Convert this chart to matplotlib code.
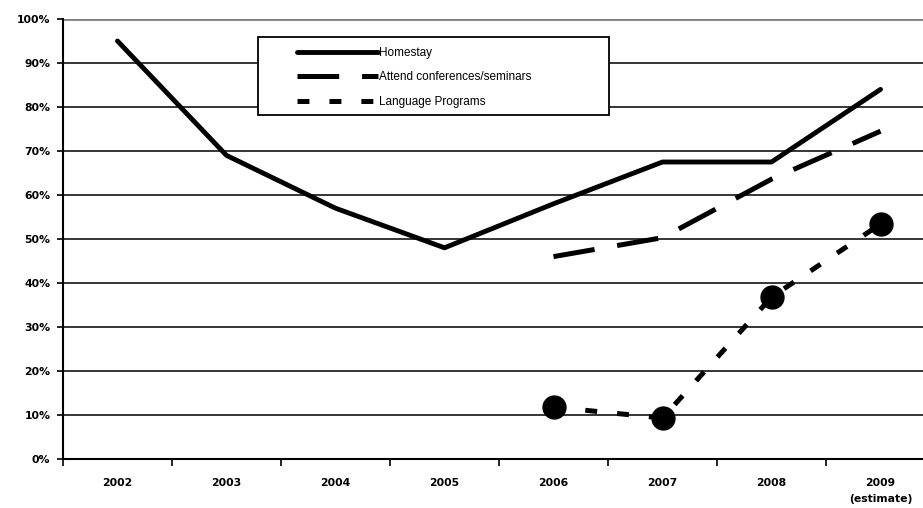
import matplotlib
matplotlib.use("Agg")
import matplotlib.pyplot as plt
from matplotlib.lines import Line2D
from matplotlib.patches import Rectangle
from matplotlib.ticker import FixedLocator, NullFormatter

plt.rcParams['font.family'] = ['Liberation Sans', 'DejaVu Sans']
plt.rcParams['lines.scale_dashes'] = False

years = ["2002", "2003", "2004", "2005", "2006", "2007", "2008", "2009\n(estimate)"]
homestay = [95, 69, 57, 48, 58, 67.5, 67.5, 84]
attend_idx = [4, 5, 6, 7]
attend = [46, 50.3, 63.6, 74.5]
lang_idx = [4, 5, 6, 7]
language = [11.8, 9.3, 36.8, 53.4]
yticks = [0, 10, 20, 30, 40, 50, 60, 70, 80, 90, 100]
series_names = ["Homestay", "Attend conferences/seminars", "Language Programs"]

W, H = 923, 508
fig = plt.figure(figsize=(W / 100, H / 100), dpi=100)
ax = fig.add_axes([63 / W, 49 / H, 872 / W, 440 / H])
ax.set_xlim(-0.5, 7.5)
ax.set_ylim(0, 100)

tick_font = dict(family=['DejaVu Sans'], fontsize=7.8, fontweight='bold')

# gridlines
for v in yticks[1:-1]:
    ax.axhline(v, color='black', lw=1.1, zorder=1)
ax.axhline(100, color='#808080', lw=2.0, zorder=1)

x_all = list(range(len(years)))
ax.plot(x_all, homestay, color='black', lw=3.5, solid_capstyle='round',
        solid_joinstyle='round', zorder=3)
ax.plot(attend_idx, attend, color='black', lw=3.6, dashes=(30, 16.5),
        dash_capstyle='butt', zorder=3)
ax.plot(lang_idx, language, color='black', lw=3.6, dashes=(8.6, 14.4),
        dash_capstyle='butt', marker='o', markersize=16.5,
        markerfacecolor='black', markeredgecolor='black', zorder=4)

for s in ['top', 'right']:
    ax.spines[s].set_visible(False)
ax.spines['left'].set_linewidth(1.5)
ax.spines['bottom'].set_linewidth(1.5)

ax.set_yticks(yticks)
ax.set_yticklabels([f"{v}%" for v in yticks], **tick_font)
ax.tick_params(axis='y', direction='out', length=4, width=1.2, pad=5)

ax.xaxis.set_major_locator(FixedLocator([i - 0.5 for i in range(len(years) + 1)]))
ax.xaxis.set_major_formatter(NullFormatter())
ax.xaxis.set_minor_locator(FixedLocator(x_all))
ax.set_xticklabels(years, minor=True, linespacing=1.75, **tick_font)
ax.tick_params(axis='x', which='major', direction='out', length=5, width=1.2)
ax.tick_params(axis='x', which='minor', length=0, pad=14)

# legend box
fig.patches.append(Rectangle((258 / W, 1 - 115 / H), (609 - 258) / W, (115 - 37) / H,
                             transform=fig.transFigure, facecolor='white',
                             edgecolor='black', lw=1.3, zorder=5))
handles = [
    Line2D([], [], color='black', lw=3.5, solid_capstyle='round'),
    Line2D([], [], color='black', lw=3.6, dashes=(30, 16.5), dash_capstyle='butt'),
    Line2D([], [], color='black', lw=3.6, dashes=(8.6, 14.4), dash_capstyle='butt'),
]
leg = fig.legend(handles, series_names, loc='upper left',
                 bbox_to_anchor=(287 / W, 1 - 37 / H), frameon=False,
                 fontsize=8.5, handlelength=6.85, handletextpad=0.15,
                 labelspacing=1.08, borderaxespad=0, borderpad=0.82)
leg.set_zorder(6)

fig.savefig("out.png", dpi=100, facecolor='white')
